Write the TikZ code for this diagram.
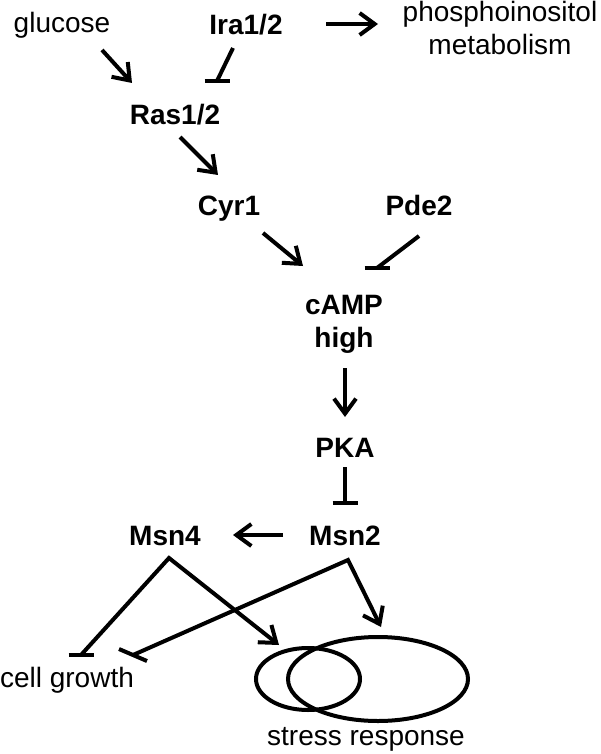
\documentclass[tikz,border=0pt]{standalone}
\usepackage{fontspec}
\setmainfont{Liberation Sans}
\usetikzlibrary{arrows.meta,shapes.geometric}

\begin{document}
\begin{tikzpicture}[x=1pt, y=-1pt, line width=4pt,
  every node/.style={inner sep=0pt, font=\fontsize{28}{33}\selectfont},
  gene/.style={font=\fontsize{28}{33}\selectfont\bfseries},
  act/.style={-{Straight Barb[sharp, length=15pt, width=22pt]}},
  inh/.style={line cap=butt},
  bar/.style={line cap=butt}]
\useasboundingbox (0,0) rectangle (601,754);
\node[anchor = base] (1) at (62,33) {glucose};
\node[gene, anchor = base] (2) at (246,35) {Ira1/2};
\node[anchor = base, align = center] (3) at (500,55) {phosphoinositol\\metabolism};
\node[gene, anchor = base] (4) at (175,125) {Ras1/2};
\node[gene, anchor = base] (5) at (229,215) {Cyr1};
\node[gene, anchor = base] (6) at (419,215) {Pde2};
\node[gene, anchor = base, align = center] (7) at (344,347) {cAMP\\high};
\node[gene, anchor = base] (8) at (345,457) {PKA};
\node[gene, anchor = base] (9) at (345,545) {Msn2};
\node[gene, anchor = base] (10) at (165,545) {Msn4};
\node[anchor = base] (11) at (67,687) {cell growth};
\node[draw, ellipse, minimum width = 104pt, minimum height = 62pt] (12) at (308,679) {};
\node[draw, ellipse, minimum width = 180pt, minimum height = 84pt] (13) at (378,679) {};
\node[anchor = base] (14) at (366,745) {stress response};

\draw[act] ([shift={(40,17)}]1.base) -- ([shift={(-43,-42)}]4.base);
\draw[inh] ([shift={(-13,13)}]2.base) -- ([shift={(42,-44)}]4.base) coordinate (b1);
\draw[act] ([shift={(80,-11)}]2.base) -- ([shift={(-122,-31)}]3.base);
\draw[act] ([shift={(5,12)}]4.base) -- ([shift={(-11,-40)}]5.base);
\draw[act] ([shift={(34,18)}]5.base) -- ([shift={(-41,-81)}]7.base);
\draw[inh] ([shift={(0,21)}]6.base) -- ([shift={(33,-79)}]7.base) coordinate (b2);
\draw[act] ([shift={(1,21)}]7.base) -- ([shift={(0,-40)}]8.base);
\draw[inh] ([shift={(0,10)}]8.base) -- ([shift={(0,-42)}]9.base) coordinate (b3);
\draw[act] ([shift={(-62,-10)}]9.base) -- ([shift={(68,-10)}]10.base);
\draw[act] ([shift={(14,-32)}]11.base) coordinate (b4) -- ([shift={(4,13)}]10.base) -- ([shift={(-29,-34)}]12.center);
\draw[act] ([shift={(66,-32)}]11.base) coordinate (b5) -- ([shift={(3,15)}]9.base) -- ([shift={(3,-52)}]13.center);
\foreach \b in {b1,b2,b3,b4}
  \draw[bar] ([xshift=-12.5pt]\b) -- ([xshift=12.5pt]\b);
\draw[bar] ([shift={(-14,-6)}]b5) -- ([shift={(14,6)}]b5);
\end{tikzpicture}
\end{document}
